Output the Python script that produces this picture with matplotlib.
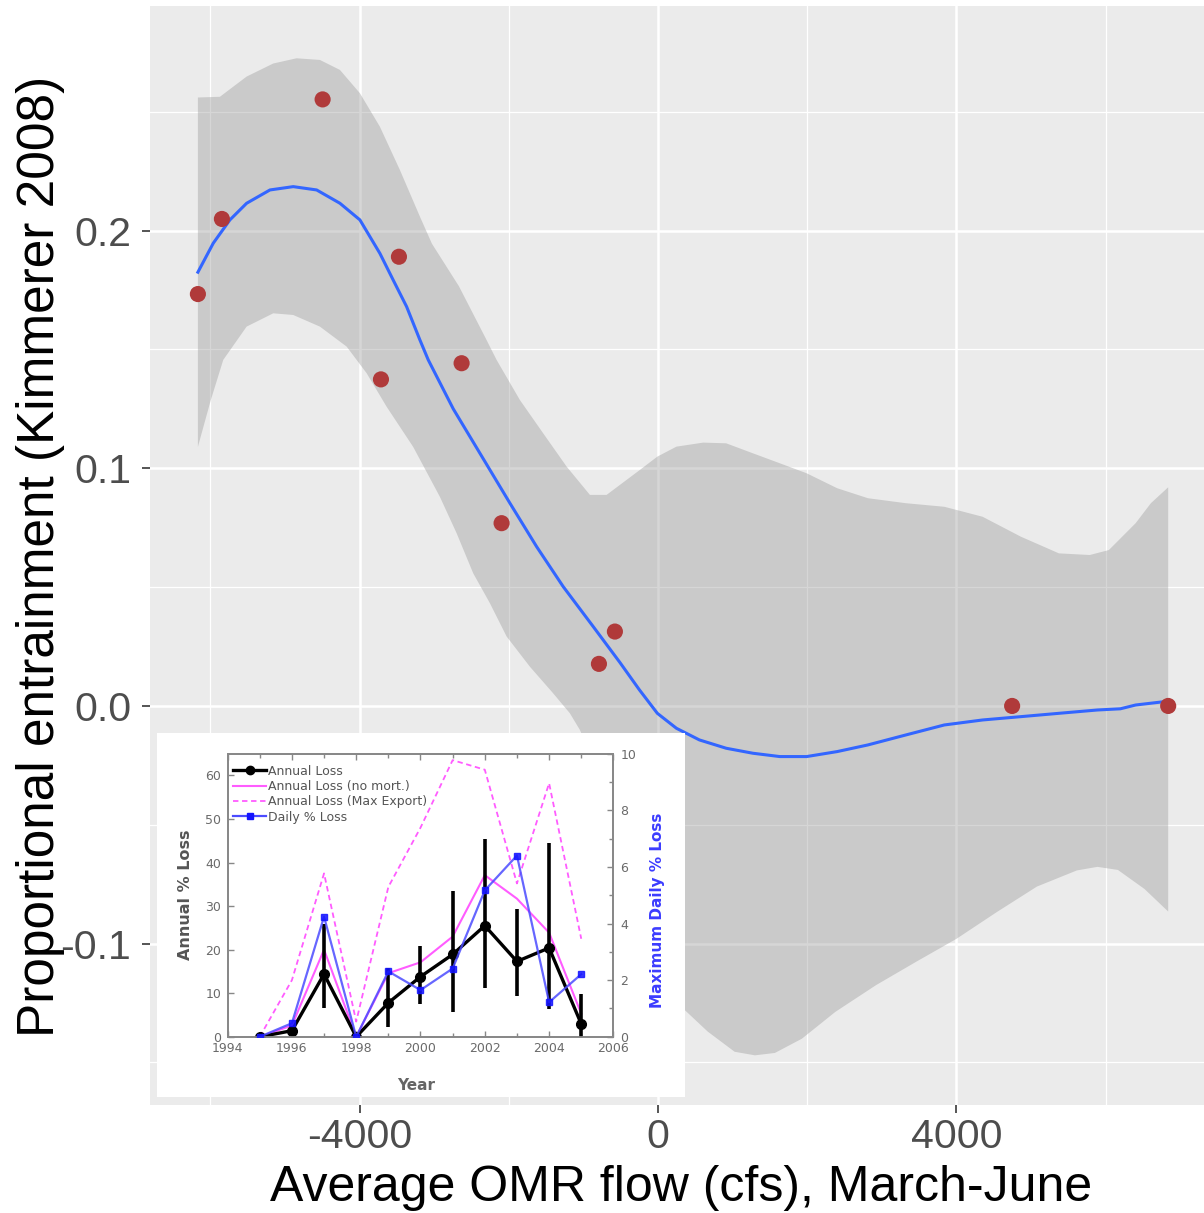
import matplotlib
matplotlib.use("Agg")
import matplotlib.pyplot as plt
from matplotlib.lines import Line2D

plt.rcParams['axes.unicode_minus'] = False
plt.rcParams['font.family'] = ['Liberation Sans', 'DejaVu Sans']

# ---------------- main chart data ----------------
omr_flow = [-6168, -5846, -4496, -3473, -3714, -2633, -2097, -578, -792, 4747, 6839]
entrainment = [0.1733, 0.2049, 0.2552, 0.1890, 0.1374, 0.1442, 0.0769, 0.0313, 0.0177, 0.0000, 0.0000]

# loess fit line
fit_x = [-6168, -5962, -5739, -5515, -5202, -4890, -4576, -4264, -3996, -3728,
         -3550, -3370, -3192, -3080, -2745, -2387, -1985, -1627, -1271, -869,
         -511, -250, -9, 247, 555, 914, 1272, 1633, 1992, 2402,
         2814, 3323, 3838, 4351, 4865, 5374, 5890, 6198, 6403, 6839]
fit_y = [0.1825, 0.1947, 0.2045, 0.2115, 0.2171, 0.2185, 0.2171, 0.2115, 0.2045, 0.1904,
         0.1792, 0.1680, 0.1540, 0.1456, 0.1250, 0.1063, 0.0853, 0.0670, 0.0502, 0.0334,
         0.0183, 0.0068, -0.0031, -0.0094, -0.0143, -0.0178, -0.0199, -0.0213, -0.0213, -0.0192,
         -0.0164, -0.0122, -0.0080, -0.0059, -0.0045, -0.0031, -0.0017, -0.0012, 0.0004, 0.0020]

# confidence band edges
band_upper_x = [-6168, -5873, -5515, -5158, -4845, -4532, -4264, -3996, -3728, -3460,
                -3192, -3031, -2669, -2307, -2164, -1851, -1539, -1225, -913, -689,
                -511, -243, -9, 247, 606, 914, 1272, 1633, 1992, 2402,
                2814, 3323, 3838, 4351, 4865, 5374, 5788, 6044, 6403, 6607, 6839]
band_upper_y = [0.2560, 0.2563, 0.2648, 0.2703, 0.2725, 0.2718, 0.2676, 0.2578, 0.2437, 0.2255,
                0.2059, 0.1945, 0.1766, 0.1545, 0.1456, 0.1287, 0.1147, 0.1007, 0.0888, 0.0888,
                0.0930, 0.0993, 0.1049, 0.1091, 0.1108, 0.1105, 0.1063, 0.1021, 0.0979, 0.0916,
                0.0874, 0.0853, 0.0838, 0.0796, 0.0712, 0.0642, 0.0635, 0.0656, 0.0769, 0.0853, 0.0920]
band_lower_x = [-6168, -5995, -5828, -5515, -5158, -4890, -4532, -4174, -3906, -3638,
                -3282, -2924, -2700, -2477, -2253, -2029, -1717, -1405, -1181, -1047,
                -645, -243, 92, 360, 666, 1027, 1299, 1567, 1929, 2378,
                2921, 3457, 4000, 4543, 5079, 5615, 5891, 6165, 6521, 6839]
band_lower_y = [0.1090, 0.1287, 0.1456, 0.1596, 0.1652, 0.1645, 0.1596, 0.1512, 0.1400, 0.1259,
                0.1090, 0.0880, 0.0727, 0.0558, 0.0432, 0.0292, 0.0165, 0.0053, -0.0031, -0.0101,
                -0.0400, -0.0800, -0.1100, -0.1280, -0.1370, -0.1455, -0.1470, -0.1460, -0.1400, -0.1287,
                -0.1175, -0.1077, -0.0980, -0.0867, -0.0760, -0.0692, -0.0677, -0.0690, -0.0770, -0.0865]

x_ticks = [-4000, 0, 4000]
x_ticklabels = ['-4000', '0', '4000']
x_minor = [-6000, -2000, 2000, 6000]
y_ticks = [-0.1, 0.0, 0.1, 0.2]
y_ticklabels = ['-0.1', '0.0', '0.1', '0.2']
y_minor = [-0.15, -0.05, 0.05, 0.15, 0.25]

# ---------------- inset data ----------------
years = [1995, 1996, 1997, 1998, 1999, 2000, 2001, 2002, 2003, 2004, 2005]
annual_loss = [0.0, 1.4, 14.4, 0.0, 7.8, 13.8, 18.9, 25.5, 17.3, 20.4, 2.95]
annual_low = [0.0, 0.4, 6.7, 0.0, 2.2, 7.6, 5.7, 11.3, 9.3, 6.4, 0.0]
annual_high = [0.0, 2.4, 25.9, 0.0, 15.8, 20.8, 33.4, 45.3, 29.3, 44.5, 9.9]
no_mort = [0.0, 2.6, 20.0, 0.0, 14.6, 17.1, 23.0, 37.1, 31.7, 23.9, 5.3]
max_export = [0.0, 13.0, 37.5, 3.5, 34.4, 48.0, 63.5, 61.3, 35.2, 58.2, 22.5]
daily_loss = [0.0, 0.48, 4.24, 0.0, 2.31, 1.65, 2.41, 5.17, 6.40, 1.22, 2.21]
inset_xticks = [1994, 1996, 1998, 2000, 2002, 2004, 2006]
inset_xminor = [1995, 1997, 1999, 2001, 2003, 2005]
inset_yticks = [0, 10, 20, 30, 40, 50, 60]
inset_rticks = [0, 2, 4, 6, 8, 10]
inset_rminor = [1, 3, 5, 7, 9]
legend_labels = ['Annual Loss', 'Annual Loss (no mort.)', 'Annual Loss (Max Export)', 'Daily % Loss']

W, H = 1204, 1213
fig = plt.figure(figsize=(W / 100, H / 100), dpi=100)
fig.patch.set_facecolor('white')

# main axes: panel spans px x 150..1204, y 6..1105
ax = fig.add_axes([150 / W, 1 - 1105 / H, 1054 / W, 1099 / H])
ax.set_facecolor('#EBEBEB')
for s in ax.spines.values():
    s.set_visible(False)
ax.set_xlim(-6810, 7319)
ax.set_ylim(-0.1679, 0.2945)
ax.set_xticks(x_ticks)
ax.set_xticklabels(x_ticklabels)
ax.set_xticks(x_minor, minor=True)
ax.set_yticks(y_ticks)
ax.set_yticklabels(y_ticklabels)
ax.set_yticks(y_minor, minor=True)
ax.set_axisbelow(True)
ax.grid(which='major', color='white', lw=1.8)
ax.grid(which='minor', color='white', lw=0.9)
ax.tick_params(which='major', length=5.5, width=1.4, color='#555555',
               labelsize=29.5, labelcolor='#4D4D4D')
ax.tick_params(axis='x', which='major', pad=3.5)
ax.tick_params(axis='y', which='major', pad=8)
ax.tick_params(which='minor', length=0)

poly_x = band_upper_x + band_lower_x[::-1]
poly_y = band_upper_y + band_lower_y[::-1]
ax.fill(poly_x, poly_y, color='#999999', alpha=0.4, lw=0, zorder=2)
ax.plot(fit_x, fit_y, color='#3366FF', lw=2.2, zorder=3, solid_joinstyle='round')
ax.scatter(omr_flow, entrainment, s=135, color='#B03A3A', edgecolors='none', zorder=4)

ax.set_xlabel('Average OMR flow (cfs), March-June', fontsize=36, color='black')
ax.xaxis.set_label_coords(0.504, -(1201 - 1105) / 1099)
ax.xaxis.label.set_va('baseline')
ax.set_ylabel('Proportional entrainment (Kimmerer 2008)', fontsize=37, color='black')
ax.yaxis.set_label_coords((54 - 150) / 1054, (1105 - 556) / 1099)
ax.yaxis.label.set_va('baseline')

# white box for inset picture
box = fig.add_axes([157 / W, 1 - 1097 / H, 528 / W, 364 / H])
box.set_facecolor('white')
box.set_xticks([])
box.set_yticks([])
for s in box.spines.values():
    s.set_visible(False)

# inset axes
IF = ['DejaVu Sans']
iax = fig.add_axes([227.6 / W, 1 - 1036.8 / H, 385.8 / W, 283.2 / H])
iax.set_facecolor('none')
iax.set_xlim(1994, 2006)
iax.set_ylim(0, 65)
pink = '#FF5CFF'
iax.plot(years, max_export, color=pink, lw=1.3, ls='--', dashes=(3, 2), zorder=2)
iax.plot(years, no_mort, color=pink, lw=1.5, zorder=2)
iax.vlines(years, annual_low, annual_high, color='black', lw=2.6, zorder=3)
iax.plot(years, annual_loss, color='black', lw=2.4, marker='o', ms=7, zorder=4)
iax.set_xticks(inset_xticks)
iax.set_xticks(inset_xminor, minor=True)
iax.set_yticks(inset_yticks)
gray_spine = '#888888'
for s in iax.spines.values():
    s.set_color(gray_spine)
    s.set_linewidth(1.3)
iax.tick_params(which='both', direction='in', top=True, right=False, color=gray_spine,
                labelcolor='#6A6A6A', labelsize=9, width=1.0)
iax.tick_params(which='major', length=4)
iax.tick_params(which='minor', length=3)
iax.tick_params(axis='x', pad=4)
iax.tick_params(axis='y', pad=4.5)
for lab in iax.get_xticklabels() + iax.get_yticklabels():
    lab.set_family(IF)

tax = iax.twinx()
tax.set_ylim(0, 10)
tax.plot(years, daily_loss, color='#4B4BFF', lw=1.6, alpha=0.85, marker='s', ms=5,
         mfc='#1414FF', mec='#1414FF', zorder=5)
tax.set_yticks(inset_rticks)
tax.set_yticks(inset_rminor, minor=True)
for s in tax.spines.values():
    s.set_color(gray_spine)
    s.set_linewidth(1.3)
tax.tick_params(which='both', direction='in', color=gray_spine, labelcolor='#6A6A6A',
                labelsize=9, width=1.0, pad=5)
tax.tick_params(which='major', length=4)
tax.tick_params(which='minor', length=3)
for lab in tax.get_yticklabels():
    lab.set_family(IF)

iax.set_xlabel('Year', fontsize=11, fontweight='bold', color='#666666', family=IF)
iax.xaxis.set_label_coords((416 - 227.6) / 385.8, (1036.8 - 1090) / 283.2)
iax.xaxis.label.set_va('baseline')
iax.set_ylabel('Annual % Loss', fontsize=11.5, fontweight='bold', color='#555555', family=IF)
iax.yaxis.set_label_coords((190 - 227.6) / 385.8, 0.5)
iax.yaxis.label.set_va('baseline')
tax.set_ylabel('Maximum Daily % Loss', fontsize=11, fontweight='bold', color='#3C3CFF', family=IF)
tax.yaxis.set_label_coords((662 - 227.6) / 385.8, (1036.8 - 910.7) / 283.2)
tax.yaxis.label.set_va('baseline')

handles = [
    Line2D([], [], color='black', lw=2.4, marker='o', ms=6),
    Line2D([], [], color=pink, lw=1.5),
    Line2D([], [], color=pink, lw=1.3, ls='--', dashes=(3, 2)),
    Line2D([], [], color='#4B4BFF', lw=1.6, marker='s', ms=5, mfc='#1414FF', mec='#1414FF'),
]
leg = tax.legend(handles, legend_labels, loc='upper left', bbox_to_anchor=(0.0132, 0.961),
                 borderaxespad=0, borderpad=0, frameon=False, handlelength=2.7,
                 handletextpad=0.15, labelspacing=0.19, numpoints=1,
                 prop={'family': IF, 'size': 9})
for t in leg.get_texts():
    t.set_color('#555555')

fig.savefig('out.png', dpi=100, facecolor='white')
